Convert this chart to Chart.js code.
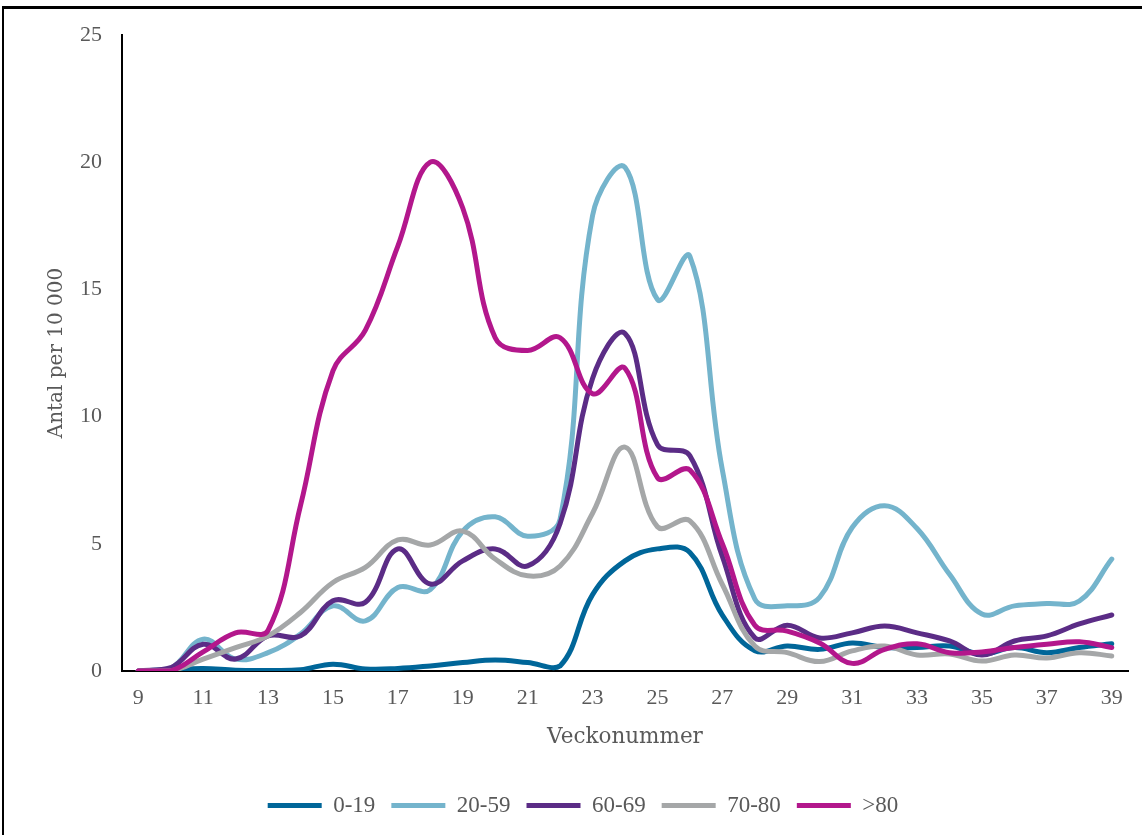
<!DOCTYPE html>
<html>
<head>
<meta charset="utf-8">
<script src="https://cdn.jsdelivr.net/npm/chart.js@4.4.0/dist/chart.umd.min.js"></script>
<style>
  html, body { margin: 0; padding: 0; background: #fff; }
  #wrap { position: relative; width: 1142px; height: 835px; overflow: hidden; }
  #frame { position: absolute; left: 2px; top: 6px; width: 1200px; height: 900px;
           border-left: 2px solid #000; border-top: 3px solid #000; }
  canvas { position: absolute; left: 0; top: 0; }
</style>
</head>
<body>
<div id="wrap">
  <div id="frame"></div>
  <canvas id="linechart" width="1142" height="835"></canvas>
</div>
<script>
// veckor 9..39
var veckor = ['9','10','11','12','13','14','15','16','17','18','19','20','21','22','23','24',
              '25','26','27','28','29','30','31','32','33','34','35','36','37','38','39'];

var ald0_19  = [0, 0.05, 0.1, 0.03, 0.02, 0.05, 0.27, 0.08, 0.1, 0.2, 0.33, 0.43, 0.33, 0.2, 3.0, 4.33,
                4.8, 4.66, 2.2, 0.8, 0.98, 0.85, 1.1, 0.92, 0.92, 0.98, 0.67, 0.92, 0.72, 0.92, 1.07];
var ald20_59 = [0, 0.1, 1.25, 0.47, 0.72, 1.45, 2.56, 1.97, 3.28, 3.2, 5.5, 6.06, 5.3, 5.97, 17.9, 19.8,
                14.6, 16.3, 7.9, 2.83, 2.56, 2.9, 5.64, 6.5, 5.6, 3.8, 2.24, 2.56, 2.65, 2.75, 4.4];
var ald60_69 = [0, 0.13, 1.05, 0.47, 1.38, 1.38, 2.76, 2.7, 4.8, 3.42, 4.33, 4.8, 4.13, 5.8, 11.5, 13.27,
                8.9, 8.46, 4.5, 1.31, 1.8, 1.3, 1.5, 1.77, 1.5, 1.18, 0.63, 1.18, 1.38, 1.85, 2.2];
var ald70_80 = [0, 0, 0.47, 0.92, 1.38, 2.3, 3.48, 4.07, 5.15, 4.95, 5.5, 4.4, 3.74, 4.13, 6.2, 8.8,
                5.67, 5.9, 3.4, 0.98, 0.72, 0.37, 0.79, 0.98, 0.63, 0.67, 0.39, 0.63, 0.51, 0.72, 0.59];
var ald80    = [0, 0, 0.75, 1.5, 1.6, 6.5, 11.8, 13.4, 16.7, 20.0, 18.2, 13.1, 12.6, 13.1, 10.9, 11.9,
                7.6, 7.9, 5.0, 1.8, 1.57, 1.1, 0.3, 0.85, 1.07, 0.72, 0.75, 0.92, 1.05, 1.15, 0.92];

var yTicks = [0, 5, 10, 15, 20, 25];

var textColor = '#595959';
var serif = "'Liberation Serif', 'DejaVu Serif', serif";
var wideSerif = "'DejaVu Serif', 'Liberation Serif', serif";

function serie(label, data, color, order) {
    return {
        label: label,
        data: data,
        borderColor: color,
        backgroundColor: color,
        borderWidth: 5,
        borderCapStyle: 'round',
        borderJoinStyle: 'round',
        pointRadius: 0,
        pointHoverRadius: 0,
        tension: 0.4,
        fill: false,
        order: order
    };
}

var ctx = document.getElementById('linechart');
var chart = new Chart(ctx, {
    type: 'line',
    data: {
        labels: veckor,
        datasets: [
            serie('0-19', ald0_19, '#006699', 4),
            serie('20-59', ald20_59, '#74b4cc', 3),
            serie('60-69', ald60_69, '#5b2c86', 2),
            serie('70-80', ald70_80, '#a5a7a8', 1),
            serie('>80', ald80, '#b3178c', 0)
        ]
    },
    options: {
        responsive: false,
        animation: false,
        layout: { padding: { left: 38, right: 14, top: 35, bottom: 8 } },
        plugins: {
            tooltip: { enabled: false },
            legend: {
                position: 'bottom',
                labels: {
                    usePointStyle: true,
                    pointStyle: 'line',
                    pointStyleWidth: 54,
                    padding: 16,
                    color: textColor,
                    font: { family: serif, size: 23 },
                    sort: function(a, b) { return a.datasetIndex - b.datasetIndex; }
                }
            }
        },
        scales: {
            x: {
                offset: true,
                grid: { display: false, drawTicks: false },
                border: { display: true, color: '#000', width: 2 },
                ticks: {
                    autoSkip: false,
                    maxRotation: 0,
                    padding: 14,
                    color: textColor,
                    font: { family: serif, size: 22 },
                    callback: function(val, i) {
                        var v = parseInt(veckor[i], 10);
                        return v % 2 === 1 ? veckor[i] : '';
                    }
                },
                title: {
                    display: true,
                    text: 'Veckonummer',
                    color: textColor,
                    font: { family: wideSerif, size: 21.5 },
                    padding: { top: 0, bottom: 28 }
                },
                afterFit: function(scale) { scale.height = 107; }
            },
            y: {
                min: 0,
                max: 25,
                afterBuildTicks: function(scale) {
                    scale.ticks = yTicks.map(function(v) { return { value: v }; });
                },
                grid: { display: false, drawTicks: false },
                border: { display: true, color: '#000', width: 2 },
                ticks: {
                    padding: 20,
                    color: textColor,
                    font: { family: serif, size: 22 }
                },
                title: {
                    display: true,
                    text: 'Antal per 10 000',
                    color: textColor,
                    font: { family: wideSerif, size: 20 },
                    padding: { top: 7, bottom: 0 }
                },
                afterFit: function(scale) { scale.width = 84; }
            }
        }
    }
});
</script>
</body>
</html>
